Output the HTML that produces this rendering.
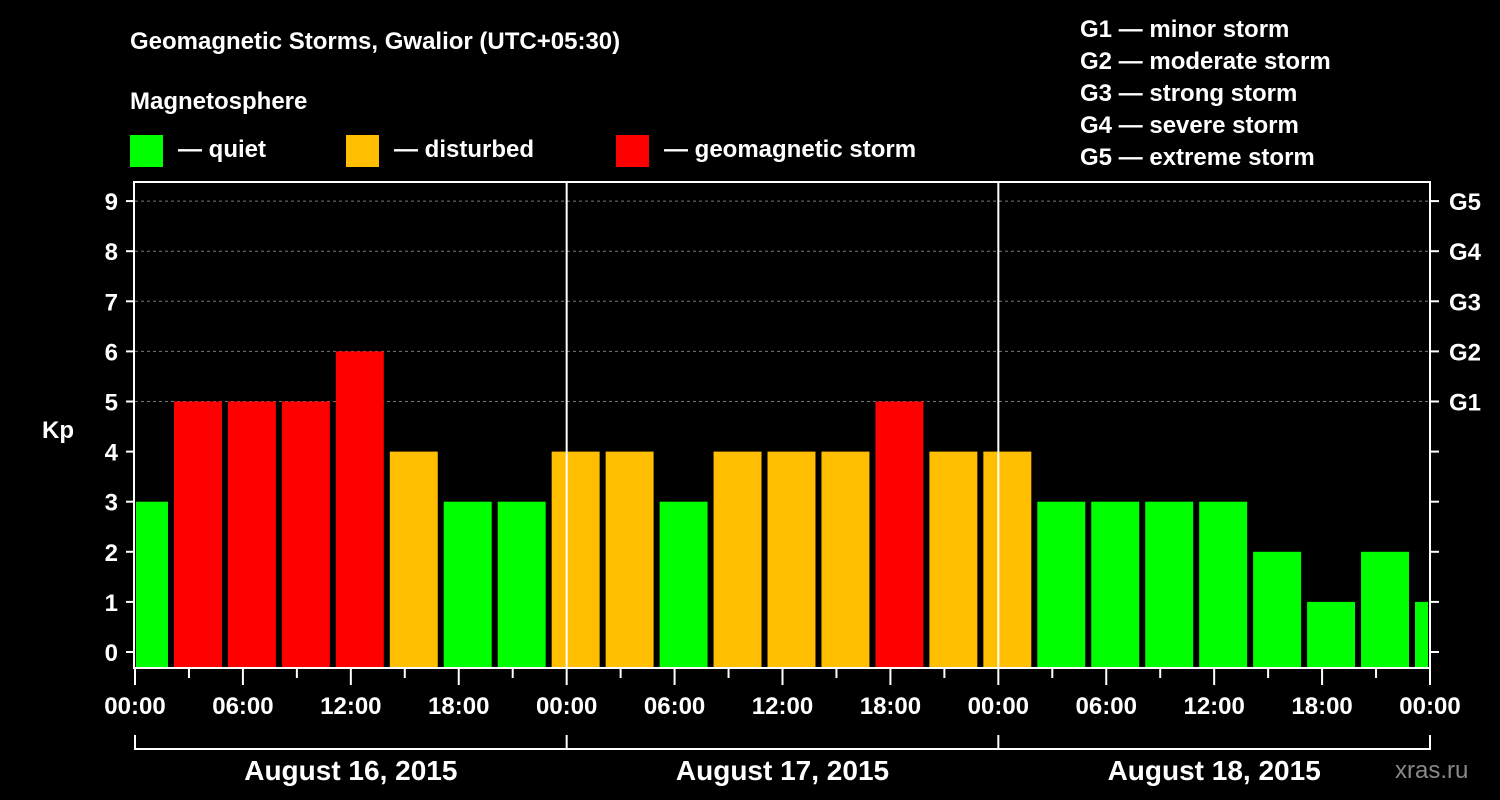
<!DOCTYPE html>
<html><head><meta charset="utf-8">
<style>
html,body{margin:0;padding:0;background:#000;}
svg{display:block;font-family:"Liberation Sans",sans-serif;font-weight:bold;}
</style></head>
<body>
<svg id="chart" width="1500" height="800" viewBox="0 0 1500 800">
<text x="130" y="49" fill="#fff" font-size="24">Geomagnetic Storms, Gwalior (UTC+05:30)</text>
<text x="130" y="109" fill="#fff" font-size="24">Magnetosphere</text>
<rect x="130" y="135" width="33" height="32" fill="#00ff00"/>
<text x="178" y="157" fill="#fff" font-size="24">— quiet</text>
<rect x="346" y="135" width="33" height="32" fill="#ffbf00"/>
<text x="394" y="157" fill="#fff" font-size="24">— disturbed</text>
<rect x="616" y="135" width="33" height="32" fill="#ff0000"/>
<text x="664" y="157" fill="#fff" font-size="24">— geomagnetic storm</text>
<g fill="#fff" font-size="24">
<text x="1080" y="37">G1 — minor storm</text>
<text x="1080" y="69">G2 — moderate storm</text>
<text x="1080" y="101">G3 — strong storm</text>
<text x="1080" y="133">G4 — severe storm</text>
<text x="1080" y="165">G5 — extreme storm</text>
</g>
<text x="42" y="438" fill="#fff" font-size="24">Kp</text>
<text x="1395" y="778" fill="#888" font-size="24" font-weight="normal">xras.ru</text>
<g id="grid"></g><g id="bars"></g><g id="axes"></g>
</svg>
<script>
const kpValues=[3,5,5,5,6,4,3,3,4,4,3,4,4,4,5,4,4,3,3,3,3,2,1,2,1];
const yTicks=[0,1,2,3,4,5,6,7,8,9];
const gLabels=["G1","G2","G3","G4","G5"];
const xTickLabels=["00:00","06:00","12:00","18:00","00:00","06:00","12:00","18:00","00:00","06:00","12:00","18:00","00:00"];
const dayLabels=["August 16, 2015","August 17, 2015","August 18, 2015"];
const firstBoundaryHour=2;
const NS="http://www.w3.org/2000/svg";
const L=135,R=1430,T=182,B=668;
const x=h=>L+(R-L)*h/72;
const y=k=>652-50.1*k;
function mk(tag,attrs,parent,text){const e=document.createElementNS(NS,tag);for(const k in attrs)e.setAttribute(k,attrs[k]);if(text!==undefined)e.textContent=text;parent.appendChild(e);return e;}
const grid=document.getElementById('grid'),bars=document.getElementById('bars'),axes=document.getElementById('axes');
yTicks.forEach(k=>{if(k>=5){const l=mk('line',{x1:L,x2:R,y1:y(k),y2:y(k),stroke:'#777','stroke-dasharray':'3,3'},grid);

}});
kpValues.forEach((v,i)=>{
 let h0=firstBoundaryHour+3*(i-1), h1=h0+3;
 let x0=Math.max(x(h0)+3,L+1), x1=Math.min(x(h1)-3,R-2);
 const c=v>=5?'#ff0000':(v>=4?'#ffbf00':'#00ff00');
 const r=mk('rect',{x:x0,y:y(v),width:x1-x0,height:B-1-y(v),fill:c},bars);
 
 
});
[1,2].forEach(d=>{const l=mk('line',{x1:x(24*d),x2:x(24*d),y1:T,y2:B,stroke:'#fff','stroke-width':2},axes);

});
const frame=mk('rect',{x:L-1,y:T,width:R-L+1,height:B-T,fill:'none',stroke:'#fff','stroke-width':2},axes);


yTicks.forEach(k=>{
 mk('line',{x1:L-9,x2:L,y1:y(k),y2:y(k),stroke:'#fff','stroke-width':2},axes);
 mk('line',{x1:R,x2:R+9,y1:y(k),y2:y(k),stroke:'#fff','stroke-width':2},axes);
 const t=mk('text',{x:L-17,y:y(k)+9,fill:'#fff','font-size':24,'text-anchor':'end'},axes,String(k));
 
 
 if(k>=5){const g=mk('text',{x:R+19,y:y(k)+9,fill:'#fff','font-size':24},axes,gLabels[k-5]);
 
 }
});
for(let h=0;h<=72;h+=3){const major=h%6===0;mk('line',{x1:x(h),x2:x(h),y1:B,y2:B+(major?17:10),stroke:'#fff','stroke-width':2},axes);}
xTickLabels.forEach((s,i)=>{const t=mk('text',{x:x(6*i),y:714,fill:'#fff','font-size':24,'text-anchor':'middle'},axes,s);

});
mk('line',{x1:L,x2:R,y1:749,y2:749,stroke:'#fff','stroke-width':2},axes);
[0,1,2,3].forEach(d=>mk('line',{x1:x(24*d),x2:x(24*d),y1:735,y2:750,stroke:'#fff','stroke-width':2},axes));
dayLabels.forEach((s,i)=>{const t=mk('text',{x:x(24*i+12),y:780,fill:'#fff','font-size':28,'text-anchor':'middle'},axes,s);

});
</script>
</body></html>
